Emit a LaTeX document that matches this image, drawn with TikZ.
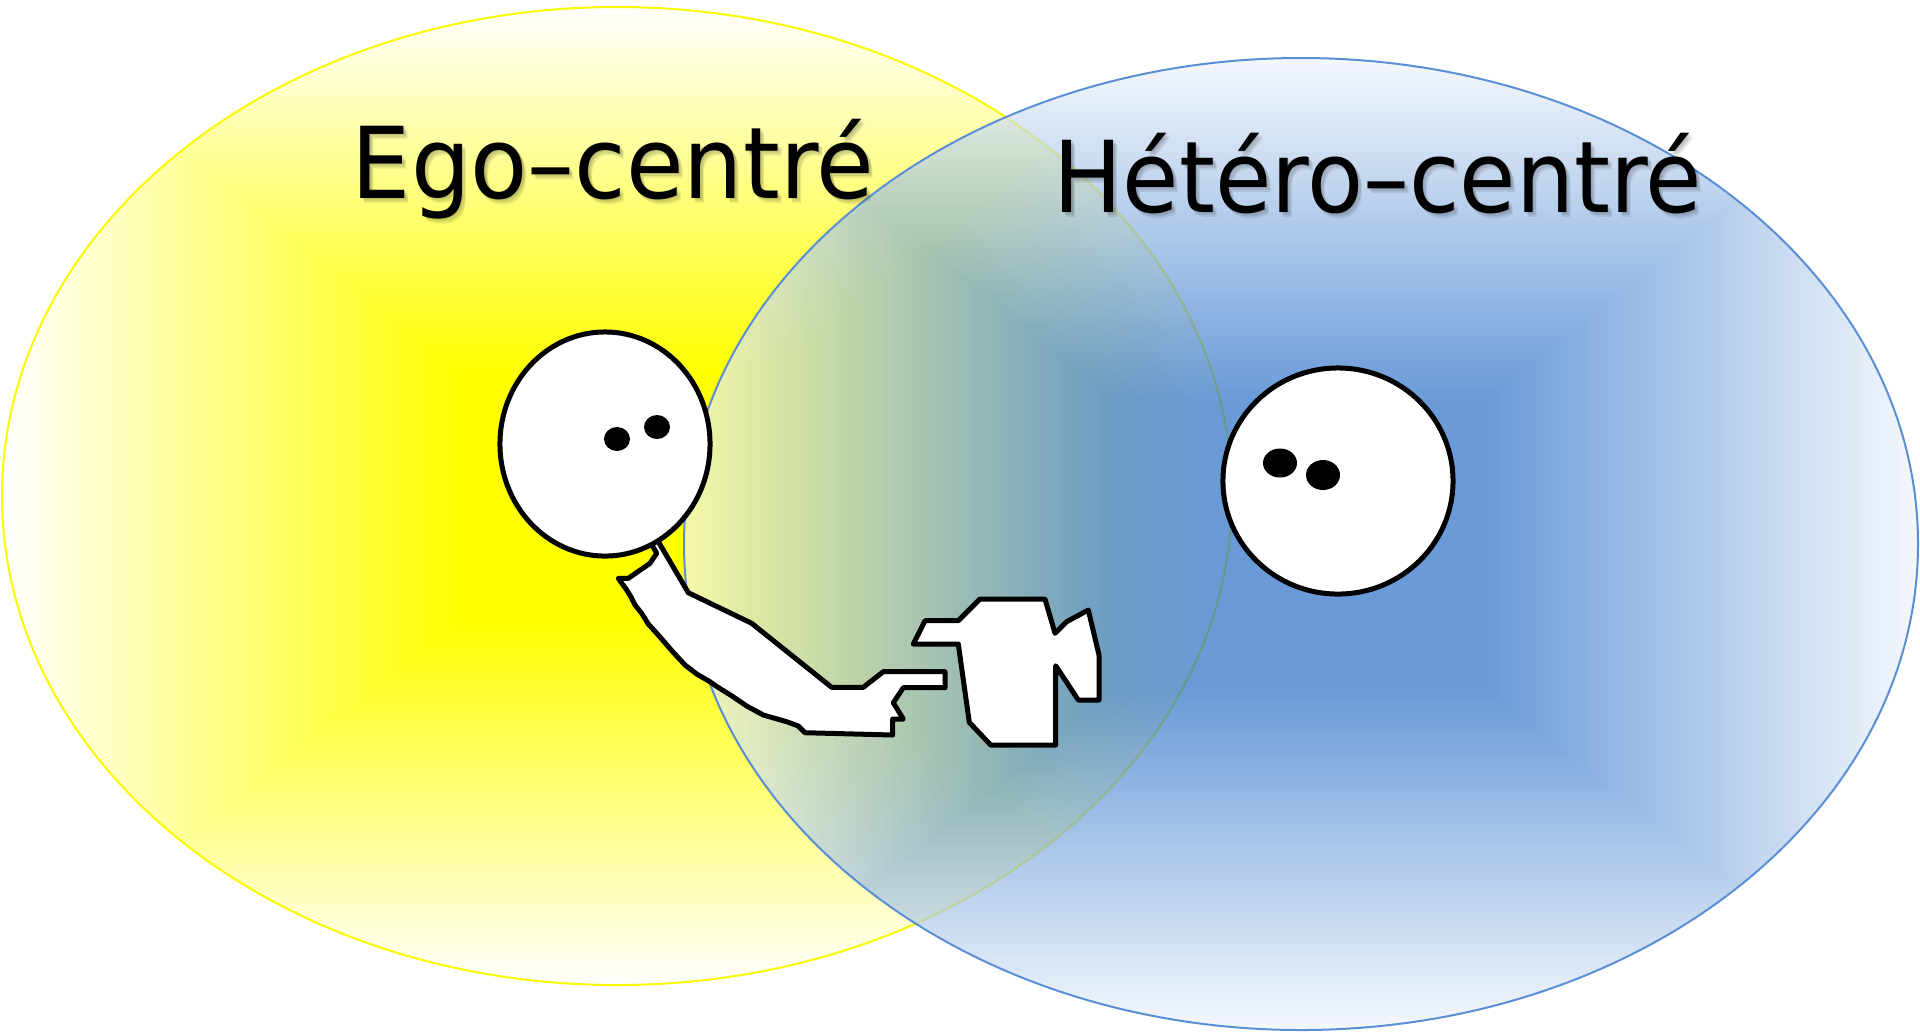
\documentclass[tikz,border=0pt]{standalone}
\usepackage{fontspec}
\usepackage{graphicx}
\usetikzlibrary{shapes.geometric}
\newfontfamily\labelfont{DejaVu Sans}

\definecolor{yelC}{RGB}{255,255,0}
\definecolor{yelO}{RGB}{255,255,255}
\definecolor{bluC}{RGB}{36,108,198}
\definecolor{bluO}{RGB}{240,245,251}
\definecolor{bluLine}{RGB}{91,143,213}
\definecolor{yelLine}{RGB}{250,250,0}

\tikzset{
  figline/.style={draw=black, line width=0.05cm, fill=white, line join=round},
  pupil/.style={fill=black},
  title/.style={inner sep=0pt, anchor=base, text=black,
    font=\labelfont\fontsize{28.2pt}{34pt}\selectfont},
  titleshadow/.style={title, text=black, text opacity=0.09},
}

\newcommand{\egotext}{\scalebox{0.945}[1]{Ego–centré}}
\newcommand{\heterotext}{\scalebox{0.925}[1]{Hétéro–centré}}

\begin{document}
\begin{tikzpicture}[x=0.01cm, y=-0.01cm]
\useasboundingbox (0,0) rectangle (1920,1032);

% ---- yellow field, rectangular gradient from its centre ----
\begin{scope}
  \clip (617,496) ellipse [x radius=615, y radius=489];
  \shade[left color=yelO, right color=yelC] (2,7) rectangle (463.25,985);
  \shade[left color=yelC, right color=yelO] (770.75,7) rectangle (1232,985);
  \fill[yelC] (462,7) rectangle (772,985);
  \shade[top color=yelO, bottom color=yelC] (2,7) -- (1232,7) -- (770.75,373.75) -- (463.25,373.75) -- cycle;
  \shade[top color=yelC, bottom color=yelO] (463.25,618.25) -- (770.75,618.25) -- (1232,985) -- (2,985) -- cycle;
\end{scope}
\draw[yelLine, line width=0.02cm] (617,496) ellipse [x radius=615, y radius=489];

% ---- blue field, semi-transparent, rectangular gradient ----
\begin{scope}[transparency group, opacity=0.68]
  \clip (1301,544) ellipse [x radius=617, y radius=486];
  \shade[left color=bluO, right color=bluC] (684,58) rectangle (1115.9,1030);
  \shade[left color=bluC, right color=bluO] (1486.1,58) rectangle (1918,1030);
  \fill[bluC] (1114.5,58) rectangle (1487.5,1030);
  \shade[top color=bluO, bottom color=bluC] (684,58) -- (1918,58) -- (1486.1,398.2) -- (1115.9,398.2) -- cycle;
  \shade[top color=bluC, bottom color=bluO] (1115.9,689.8) -- (1486.1,689.8) -- (1918,1030) -- (684,1030) -- cycle;
\end{scope}
\draw[bluLine, line width=0.02cm] (1301,544) ellipse [x radius=617, y radius=486];

% ---- titles with a soft drop shadow ----
\node[titleshadow] (egoShA) at (614.5,199.5) {\egotext};
\node[titleshadow] (egoShB) at (616,201.5) {\egotext};
\node[titleshadow] (egoShC) at (617,203) {\egotext};
\node[title] (ego) at (613,198) {\egotext};

\node[titleshadow] (hetShA) at (1379.5,213.5) {\heterotext};
\node[titleshadow] (hetShB) at (1381,215.5) {\heterotext};
\node[titleshadow] (hetShC) at (1382,217) {\heterotext};
\node[title] (het) at (1378,212) {\heterotext};

% ---- pointing arm ----
\draw[figline] (648,536) -- (655,536) -- (688.3,592.7) -- (751.7,623.3) -- (831.7,687.3)
  -- (863.3,687.3) -- (883.3,671.7) -- (945,671.7) -- (945,687.7) -- (903.3,687.7)
  -- (893.3,702.7) -- (903.3,719) -- (892.7,719) -- (892.7,735) -- (805,732.7)
  -- (798.3,726) -- (786.7,721.7) -- (763.3,715) -- (746.7,706) -- (732,696)
  -- (716,686) -- (710,681.7) -- (707,680) -- (696.7,674) -- (685,665) -- (673,652)
  -- (660,637) -- (648.3,624) -- (641.7,613.3) -- (635,605) -- (631,597)
  -- (626.7,590) -- (618.3,578.3) -- (628.3,578.3) -- (650,563.3) -- (656.7,553.3)
  -- (652,545) -- cycle;

% ---- left head ----
\node[figline, ellipse, minimum width=2.10cm, minimum height=2.24cm, inner sep=0pt] (egoHead) at (605,444) {};
\fill[pupil] (617,439) ellipse [x radius=13, y radius=12];
\fill[pupil] (657,427) ellipse [x radius=13, y radius=12];

% ---- shirt ----
\draw[figline] (913.3,644) -- (925,620.7) -- (958.3,620.7) -- (980,599) -- (1045,599)
  -- (1055,633.3) -- (1066.7,621.7) -- (1088.3,610) -- (1099,655) -- (1099,700)
  -- (1078.3,700) -- (1055.7,665.7) -- (1055.7,745) -- (990.7,745) -- (969.3,722.3)
  -- (958.3,644) -- cycle;

% ---- right head ----
\node[figline, ellipse, minimum width=2.30cm, minimum height=2.26cm, inner sep=0pt] (hetHead) at (1338,481) {};
\fill[pupil] (1280,463) ellipse [x radius=17, y radius=14.5];
\fill[pupil] (1323,475) ellipse [x radius=17, y radius=15];
\end{tikzpicture}
\end{document}
